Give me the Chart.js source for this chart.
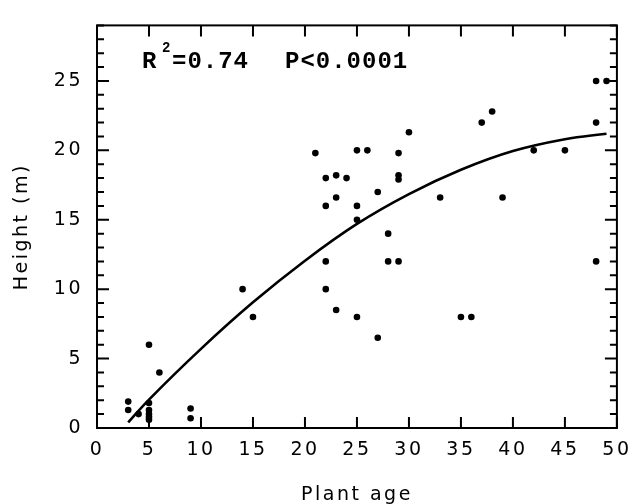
<!DOCTYPE html>
<html>
<head>
<meta charset="utf-8">
<script src="https://cdn.jsdelivr.net/npm/chart.js@4.4.1/dist/chart.umd.min.js"></script>
<style>
    html, body { margin: 0; padding: 0; background: #fff; }
    #wrap { width: 640px; height: 504px; }
</style>
</head>
<body>
<div id="wrap"><canvas id="age-chart" width="640" height="504"></canvas></div>
<script>
// observed plants: age (years) and height (m)
const ages = [3, 3, 4, 5, 5, 5, 5, 5, 5, 6, 9, 9, 14, 15,
    21, 22, 22, 22, 22, 23, 23, 23, 24, 25, 25, 25, 25, 26, 27, 27, 28, 28,
    29, 29, 29, 29, 30, 33, 35, 36, 37, 38, 39, 42, 45, 48, 48, 48, 49];
const heights = [1.9, 1.3, 1.0, 6, 1.8, 1.3, 1.0, 0.8, 0.6, 4, 1.4, 0.7, 10, 8,
    19.8, 18, 16, 12, 10, 18.2, 16.6, 8.5, 18, 20, 16, 15, 8, 20, 17, 6.5, 14, 12,
    19.8, 18.2, 17.9, 12, 21.3, 16.6, 8, 8, 22, 22.8, 16.6, 20, 20, 25, 22, 12, 25];

// fitted curve
const fitAges = [3, 5, 10, 15, 20, 25, 30, 35, 40, 45, 49];
const fitHeights = [0.4, 2.05, 5.7, 9.05, 12.05, 14.7, 16.85, 18.6, 19.95, 20.8, 21.2];

const xTickValues = [0, 5, 10, 15, 20, 25, 30, 35, 40, 45, 50];
const yTickValues = [0, 5, 10, 15, 20, 25];

const statsText = ['R', '2', '=0.74', 'P<0.0001'];

const tickFont = {family: 'DejaVu Sans', size: 19};

// inward ticks, frame and the R2 note
const framePlugin = {
    id: 'frame',
    beforeDraw: (chart) => {
        chart.ctx.letterSpacing = '2.5px';
    },
    afterDatasetsDraw: (chart) => {
        const ctx = chart.ctx;
        const area = chart.chartArea;
        const x = chart.scales.x;
        const y = chart.scales.y;

        ctx.save();
        ctx.strokeStyle = '#000';
        ctx.lineWidth = 2;
        ctx.strokeRect(area.left, area.top, area.right - area.left, area.bottom - area.top);

        ctx.beginPath();
        for (let v of xTickValues) {
            const px = x.getPixelForValue(v);
            ctx.moveTo(px, area.bottom);
            ctx.lineTo(px, area.bottom - 11);
            ctx.moveTo(px, area.top);
            ctx.lineTo(px, area.top + 11);
        }
        for (let v = 0; v <= y.max; v++) {
            const py = y.getPixelForValue(v);
            const len = (v % 5 === 0) ? 12 : 7;
            ctx.moveTo(area.left, py);
            ctx.lineTo(area.left + len, py);
            ctx.moveTo(area.right, py);
            ctx.lineTo(area.right - len, py);
        }
        ctx.stroke();

        // statistics note
        ctx.fillStyle = '#000';
        ctx.textBaseline = 'alphabetic';
        ctx.textAlign = 'left';
        ctx.letterSpacing = '1px';
        ctx.font = 'bold 24px "Liberation Mono"';
        ctx.fillText(statsText[0], 142, 68);
        ctx.fillText(statsText[2], 172, 68);
        ctx.fillText(statsText[3], 285, 68);
        ctx.font = 'bold 14px "Liberation Mono"';
        ctx.fillText(statsText[1], 162, 52);
        ctx.restore();
    }
};

let chart = new Chart(document.getElementById('age-chart'), {
    type: 'scatter',
    data: {
        datasets: [
            {
                label: 'Plants',
                data: ages.map((a, i) => ({x: a, y: heights[i]})),
                backgroundColor: '#000',
                borderColor: '#000',
                pointRadius: 3.3,
                pointHoverRadius: 3.3,
                borderWidth: 0
            },
            {
                label: 'Fit',
                data: fitAges.map((a, i) => ({x: a, y: fitHeights[i]})),
                showLine: true,
                borderColor: '#000',
                borderWidth: 2.6,
                pointRadius: 0,
                tension: 0.4
            }
        ]
    },
    options: {
        responsive: false,
        animation: false,
        layout: {
            padding: {top: 13, right: 15, left: 0, bottom: 0}
        },
        plugins: {
            legend: {display: false},
            tooltip: {enabled: false}
        },
        scales: {
            x: {
                type: 'linear',
                min: 0,
                max: 50,
                afterBuildTicks: (scale) => {
                    scale.ticks = xTickValues.map(v => ({value: v}));
                },
                afterFit: (scale) => {
                    scale.height = 76;
                },
                grid: {display: false, drawTicks: false},
                border: {display: false},
                ticks: {color: '#000', font: tickFont, padding: 11, maxRotation: 0},
                title: {
                    display: true,
                    text: 'Plant age',
                    color: '#000',
                    font: {family: 'DejaVu Sans', size: 19},
                    padding: {bottom: -2}
                }
            },
            y: {
                type: 'linear',
                min: 0,
                max: 29,
                afterBuildTicks: (scale) => {
                    scale.ticks = yTickValues.map(v => ({value: v}));
                },
                afterFit: (scale) => {
                    scale.width = 97;
                },
                grid: {display: false, drawTicks: false},
                border: {display: false},
                ticks: {color: '#000', font: tickFont, padding: 14},
                title: {
                    display: true,
                    text: 'Height (m)',
                    color: '#000',
                    font: {family: 'DejaVu Sans', size: 19},
                    padding: {top: 11}
                }
            }
        }
    },
    plugins: [framePlugin]
});
</script>
</body>
</html>
